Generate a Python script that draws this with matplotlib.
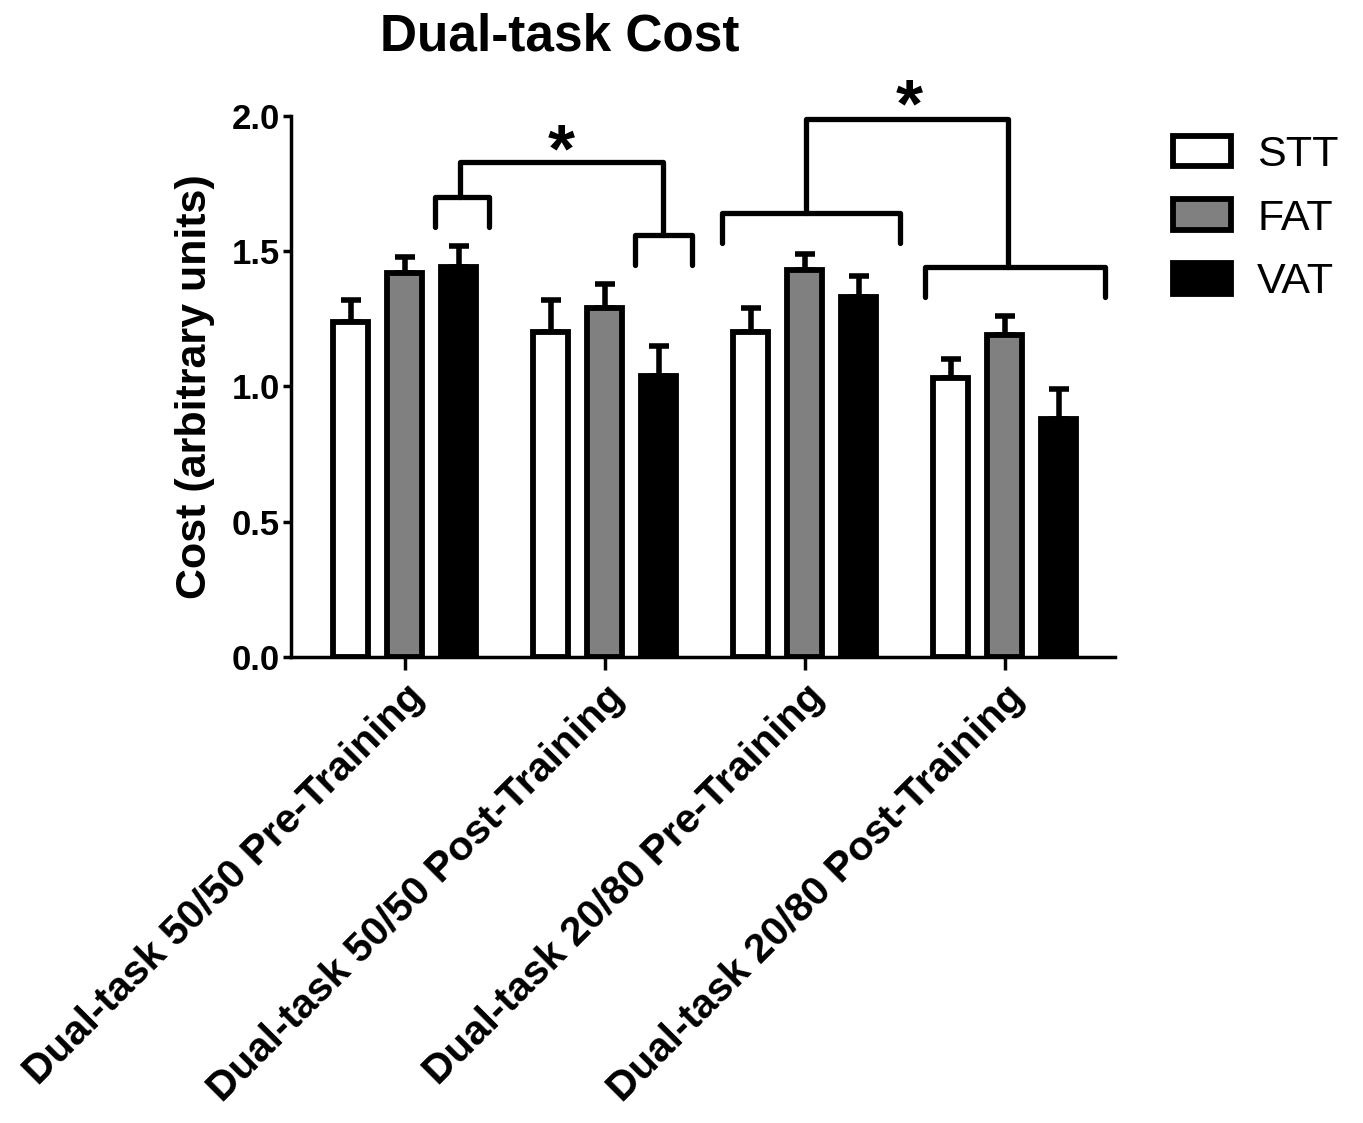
import matplotlib
matplotlib.use("Agg")
import matplotlib.pyplot as plt
from matplotlib.patches import Patch
import numpy as np

# Dual-task cost per condition (mean and upper SEM)
conditions = ["Dual-task 50/50 Pre-Training", "Dual-task 50/50 Post-Training",
              "Dual-task 20/80 Pre-Training", "Dual-task 20/80 Post-Training"]
groups = ["STT", "FAT", "VAT"]
stt_mean = [1.24, 1.20, 1.20, 1.03]
fat_mean = [1.42, 1.29, 1.43, 1.19]
vat_mean = [1.44, 1.04, 1.33, 0.88]
stt_sem = [0.08, 0.12, 0.09, 0.07]
fat_sem = [0.06, 0.09, 0.06, 0.07]
vat_sem = [0.08, 0.11, 0.08, 0.11]
y_ticks = [0.0, 0.5, 1.0, 1.5, 2.0]

plt.rcParams["font.family"] = ["Liberation Sans", "DejaVu Sans"]

fig = plt.figure(figsize=(13.63, 11.23), dpi=100)
ax = fig.add_axes([0.2135, 0.415, 0.6045, 0.4817])

x = np.arange(len(conditions))
offsets = [-0.27, 0.0, 0.27]
faces = ["white", "#808080", "black"]
means = [stt_mean, fat_mean, vat_mean]
sems = [stt_sem, fat_sem, vat_sem]
bw = 0.175

for off, face, m, s, name in zip(offsets, faces, means, sems, groups):
    xs = x + off
    ax.errorbar(xs, m, yerr=[np.zeros(len(m)), s], fmt="none", ecolor="black",
                elinewidth=4, capsize=7, capthick=4, zorder=2)
    ax.bar(xs, m, width=bw, color=face, edgecolor="black", linewidth=4.2,
           label=name, zorder=3)

ax.set_xlim(-0.57, 3.55)
ax.set_ylim(0, 2.0)
ax.set_yticks(y_ticks)
ax.set_yticklabels([f"{t:.1f}" for t in y_ticks], fontsize=25, fontweight="bold")
ax.set_xticks(x)
ax.set_xticklabels(conditions, rotation=45, ha="right", rotation_mode="anchor",
                   fontsize=29.5, fontweight="bold")
ax.tick_params(axis="both", direction="out", width=2.5)
ax.tick_params(axis="y", length=6, pad=2)
ax.tick_params(axis="x", length=9, pad=6)
for side in ["top", "right"]:
    ax.spines[side].set_visible(False)
for side in ["left", "bottom"]:
    ax.spines[side].set_linewidth(2.5)

ax.set_ylabel("Cost (arbitrary units)", fontsize=31, fontweight="bold", labelpad=12)

# Significance brackets
lw = 3.8
kw = dict(color="black", lw=lw, clip_on=False, solid_capstyle="round",
          solid_joinstyle="round", zorder=4)

def bracket(x0, x1, y_top, y_leg):
    ax.plot([x0, x0, x1, x1], [y_leg, y_top, y_top, y_leg], **kw)

# 50/50: pre VAT vs post VAT
bracket(0.15, 0.42, 1.70, 1.59)
bracket(1.15, 1.435, 1.56, 1.45)
ax.plot([0.275, 0.275, 1.29, 1.29], [1.70, 1.83, 1.83, 1.56], **kw)
ax.text(0.78, 1.745, "*", ha="center", va="bottom", fontsize=50, fontweight="bold")

# 20/80: pre vs post
bracket(1.585, 2.475, 1.64, 1.53)
bracket(2.60, 3.50, 1.44, 1.33)
ax.plot([2.005, 2.005, 3.015, 3.015], [1.64, 1.99, 1.99, 1.44], **kw)
ax.text(2.52, 1.911, "*", ha="center", va="bottom", fontsize=50, fontweight="bold",
        clip_on=False)

handles = [Patch(facecolor=f, edgecolor="black", linewidth=4.2) for f in faces]
fig.legend(handles, groups, loc="upper left", bbox_to_anchor=(0.848, 0.895),
           frameon=False, fontsize=31, handlelength=1.35, handleheight=0.72,
           labelspacing=0.55, handletextpad=0.6, borderaxespad=0)

fig.text(0.411, 0.967, "Dual-task Cost", ha="center", va="center", fontsize=37,
         fontweight="bold")

fig.savefig("out.png", dpi=100)
